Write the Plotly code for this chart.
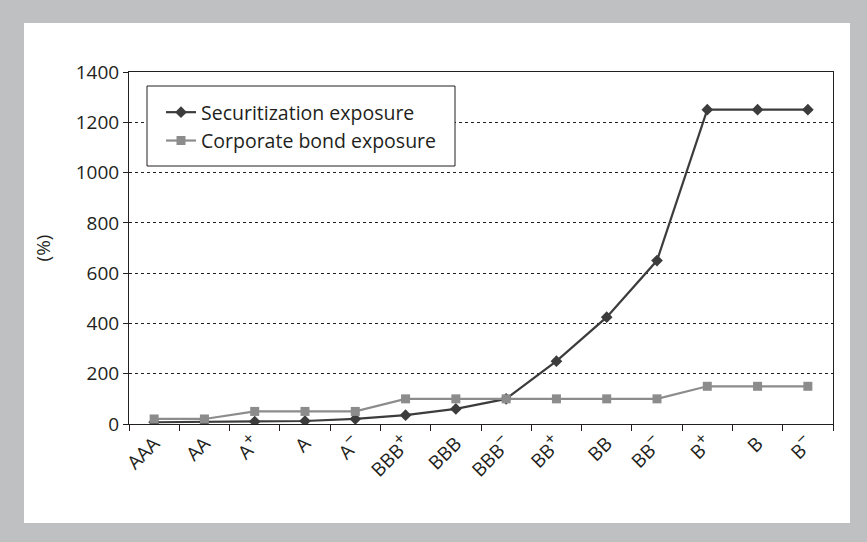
import plotly.graph_objects as go

SP = '<sup><span style="font-size:17px">+</span></sup>'
SM = '<sup><span style="font-size:17px">−</span></sup>'
categories = ["AAA", "AA", "A" + SP, "A", "A" + SM, "BBB" + SP, "BBB",
              "BBB" + SM, "BB" + SP, "BB", "BB" + SM, "B" + SP, "B", "B" + SM]
securitization = [7, 8, 10, 12, 20, 35, 60, 100, 250, 425, 650, 1250, 1250, 1250]
corporate = [20, 20, 50, 50, 50, 100, 100, 100, 100, 100, 100, 150, 150, 150]
y_ticks = [0, 200, 400, 600, 800, 1000, 1200, 1400]

W, H = 867, 542
L, R, T, B = 129, 34, 72, 118
pw, ph = W - L - R, H - T - B

def px(x):
    return (x - L) / pw

def py(y):
    return (H - B - y) / ph

FONT = "Open Sans"
TXT = "#231f20"
FS = 19

fig = go.Figure()
fig.add_trace(go.Scatter(
    x=categories, y=securitization, mode="lines+markers", name="Securitization exposure",
    line=dict(color="#3c3c3c", width=2.2),
    marker=dict(symbol="diamond", size=9, color="#3c3c3c"),
))
fig.add_trace(go.Scatter(
    x=categories, y=corporate, mode="lines+markers", name="Corporate bond exposure",
    line=dict(color="#8c8c8c", width=2.2),
    marker=dict(symbol="square", size=9, color="#8c8c8c"),
))

# white panel
fig.add_shape(type="rect", xref="paper", yref="paper",
              x0=px(24), x1=px(850), y0=py(523), y1=py(23),
              fillcolor="white", line=dict(width=0), layer="below")
# legend box
fig.add_shape(type="rect", xref="paper", yref="paper",
              x0=px(147), x1=px(455), y0=py(166), y1=py(86),
              fillcolor="white", line=dict(width=1, color=TXT), layer="above")

fig.update_layout(
    width=W, height=H,
    margin=dict(l=L, r=R, t=T, b=B, pad=0),
    paper_bgcolor="#bfc0c2",
    plot_bgcolor="white",
    font=dict(family=FONT, size=FS, color=TXT),
    showlegend=True,
    legend=dict(
        x=px(161), y=py(93), xanchor="left", yanchor="top",
        bgcolor="rgba(0,0,0,0)", borderwidth=0,
        font=dict(family=FONT, size=19.5, color=TXT),
        tracegroupgap=0, itemwidth=30,
    ),
    xaxis=dict(
        type="category", range=[-0.5, 13.5],
        tickangle=-45, ticks="outside", ticklen=6, tickcolor="#231f20",
        tickson="boundaries", showgrid=False,
        showline=True, linecolor="#231f20", linewidth=1, mirror=True,
        tickfont=dict(size=FS),
    ),
    yaxis=dict(
        range=[0, 1400], tickvals=y_ticks, ticks="outside", ticklen=5,
        tickcolor="#231f20",
        showgrid=True, gridcolor="#231f20", gridwidth=1, griddash="dot",
        showline=True, linecolor="#231f20", linewidth=1, mirror=True,
        zeroline=False,
        title=dict(text="(%)", standoff=20, font=dict(size=FS)),
        tickfont=dict(size=FS),
    ),
)

fig.write_html("out.html", config={"displayModeBar": False},
               post_script="document.body.style.margin='0';")
